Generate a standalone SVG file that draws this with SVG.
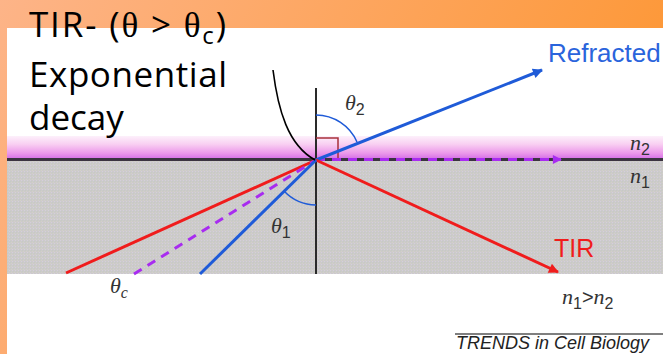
<svg xmlns="http://www.w3.org/2000/svg" width="663" height="354" viewBox="0 0 663 354">
<defs>
<linearGradient id="bg" x1="0" y1="0" x2="1" y2="0.3">
<stop offset="0" stop-color="#fdb488"/>
<stop offset="1" stop-color="#fd9735"/>
</linearGradient>
<linearGradient id="pink" x1="0" y1="0" x2="0" y2="1">
<stop offset="0" stop-color="#fdf0fb"/>
<stop offset="0.35" stop-color="#f9d0f2"/>
<stop offset="0.75" stop-color="#eb98ea"/>
<stop offset="1" stop-color="#d46ee6"/>
</linearGradient>
<pattern id="tex" width="3" height="3" patternUnits="userSpaceOnUse">
<rect width="3" height="3" fill="#cccaca"/>
<rect x="0" y="0" width="1" height="1" fill="#d4cfdc"/>
<rect x="1" y="1" width="1" height="1" fill="#c6cbc4"/>
<rect x="2" y="2" width="1" height="1" fill="#d2d0c8"/>
</pattern>
<marker id="ab" viewBox="0 0 10 10" refX="9" refY="5" markerWidth="15" markerHeight="10" markerUnits="userSpaceOnUse" orient="auto">
<path d="M0,0 L10,5 L0,10 Z" fill="#1f5bd8"/>
</marker>
<marker id="ar" viewBox="0 0 10 10" refX="9" refY="5" markerWidth="15" markerHeight="10" markerUnits="userSpaceOnUse" orient="auto">
<path d="M0,0 L10,5 L0,10 Z" fill="#f01c1c"/>
</marker>
<marker id="ap" viewBox="0 0 10 10" refX="9" refY="5" markerWidth="13" markerHeight="9" markerUnits="userSpaceOnUse" orient="auto">
<path d="M0,0 L10,5 L0,10 Z" fill="#a82cf0"/>
</marker>
<style>
.lbl{font-family:"Liberation Serif","Times New Roman",serif;font-style:italic;fill:#333;}
.sub{font-family:"Liberation Sans",Arial,sans-serif;font-style:normal;font-size:16px;}
.sans{font-family:"Liberation Sans",Arial,sans-serif;}
.big{font-family:"Open Sans","Liberation Sans",sans-serif;font-size:35px;fill:#000;}
</style>
</defs>
<g id="background">
<rect width="663" height="354" fill="url(#bg)"/>
<rect x="7" y="28" width="656" height="326" fill="#ffffff"/>
<rect x="7" y="136" width="656" height="23" fill="url(#pink)"/>
<rect x="7" y="161" width="656" height="113" fill="url(#tex)"/>
</g>
<g id="connectors" fill="none">
<line x1="7" y1="159.5" x2="663" y2="159.5" stroke="#3b3340" stroke-width="3"/>
<line x1="316" y1="88" x2="316" y2="274" stroke="#2a2a2a" stroke-width="2"/>
<path d="M316,138 H338 V159" stroke="#a8303a" stroke-width="1.5"/>
<line x1="316" y1="159.5" x2="561" y2="159.5" stroke="#a82cf0" stroke-width="3" stroke-dasharray="9,7" marker-end="url(#ap)"/>
<line x1="316" y1="160" x2="542" y2="70" stroke="#1f5bd8" stroke-width="3" marker-end="url(#ab)"/>
<line x1="316" y1="160" x2="558" y2="272" stroke="#f01c1c" stroke-width="3" marker-end="url(#ar)"/>
<line x1="66" y1="273" x2="316" y2="160" stroke="#f01c1c" stroke-width="3"/>
<line x1="134" y1="274" x2="316" y2="160" stroke="#a82cf0" stroke-width="3" stroke-dasharray="9,7"/>
<line x1="200" y1="274" x2="316" y2="160" stroke="#1f5bd8" stroke-width="3"/>
<path d="M316,115 A45,45 0 0 1 357,142" stroke="#1f5bd8" stroke-width="1.5"/>
<path d="M284,191 A45,45 0 0 0 316,205" stroke="#1f5bd8" stroke-width="1.5"/>
<path d="M273,70 C278,110 288,145 315,160" stroke="#000" stroke-width="1.6"/>
</g>
<g id="labels">
<text class="big" x="29" y="37" textLength="197" lengthAdjust="spacing">TIR- (<tspan font-family="'Liberation Serif',serif">θ</tspan> &gt; <tspan font-family="'Liberation Serif',serif">θ</tspan><tspan font-size="24" dy="7">c</tspan><tspan dy="-7">)</tspan></text>
<text class="big" x="29" y="87" textLength="198" lengthAdjust="spacing">Exponential</text>
<text class="big" x="29" y="130">decay</text>
<text class="sans" x="548" y="62" font-size="26" fill="#2a64dc">Refracted</text>
<text class="sans" x="554" y="257" font-size="25" fill="#f01c1c">TIR</text>
<text class="lbl" x="345" y="110" font-size="22">θ<tspan class="sub" dy="5">2</tspan></text>
<text class="lbl" x="271" y="233" font-size="22">θ<tspan class="sub" dy="5">1</tspan></text>
<text class="lbl" x="110" y="293" font-size="22">θ<tspan font-size="16" dy="5">c</tspan></text>
<text class="lbl" x="630" y="150" font-size="22">n<tspan class="sub" dy="5">2</tspan></text>
<text class="lbl" x="630" y="183" font-size="22">n<tspan class="sub" dy="5">1</tspan></text>
<text class="lbl" x="562" y="304" font-size="22">n<tspan class="sub" dy="5">1</tspan><tspan dy="-5" font-style="normal" font-family="'Liberation Sans',sans-serif" font-size="20">&gt;</tspan>n<tspan class="sub" dy="5">2</tspan></text>
<line x1="455" y1="334" x2="663" y2="334" stroke="#555" stroke-width="1.5"/>
<text class="sans" x="456" y="349" font-size="18" font-style="italic" fill="#222">TRENDS in Cell Biology</text>
</g>
</svg>
